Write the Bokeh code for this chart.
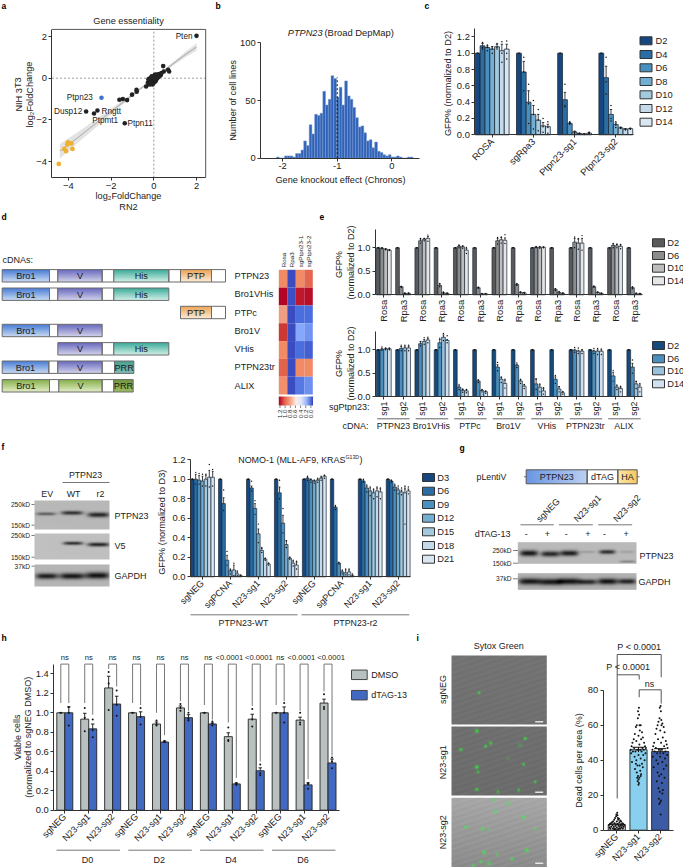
import math
import numpy as np
from bokeh.core.properties import value
from bokeh.embed import file_html
from bokeh.models import ColumnDataSource, FixedTicker, LinearAxis, LinearColorMapper, Range1d
from bokeh.plotting import figure
from bokeh.resources import INLINE

# ---------- DATA ----------
a_x = [-1.61,-1.45,-1.25,-1.02,-0.81,-0.80,-0.36,-0.23,0.44,0.47,0.67,0.72,-0.28,-0.25,-0.20,-0.18,-0.15,-0.14,-0.12,-0.10,-0.09,-0.08,-0.06,-0.05,-0.04,-0.03,-0.02,-0.01,0.0,0.01,0.02,0.03,0.04,0.05,0.06,0.07,0.08,0.09,0.10,0.11,0.12,0.13,0.15,0.16,0.18,0.20,0.22,0.24,0.26,0.28,0.30,0.33,0.36,-0.22,-0.16,-0.12,-0.05,0.02,0.1,0.17,-0.2,-0.07]
a_y = [-1.03,-1.00,-1.05,-0.79,-0.56,-0.65,-0.40,-0.27,0.58,0.32,0.40,0.32,-0.22,-0.05,-0.30,-0.18,-0.28,-0.10,-0.20,0.09,-0.22,-0.06,-0.30,-0.12,-0.02,-0.25,0.03,-0.15,-0.05,0.12,-0.20,0.08,-0.10,0.15,-0.02,0.10,-0.15,0.18,0.03,-0.08,0.14,0.05,0.16,0.0,0.12,0.04,0.18,0.10,0.20,0.12,0.18,0.15,0.25,-0.12,-0.20,0.02,0.06,0.05,0.0,0.08,-0.02,0.04]
a_gene_x = [2.0,-3.17,-2.64,-2.8,-1.36]
a_gene_y = [2.03,-1.6,-1.55,-1.69,-2.16]
a_blue_x = [-2.45]
a_blue_y = [-0.94]
a_orange_x = [-4.45,-4.19,-4.11,-4.05,-4.02,-3.86,-3.81]
a_orange_y = [-4.11,-3.39,-3.5,-3.18,-3.08,-3.13,-3.39]
a_fit_x = [-4.4,-3.5,-2.5,-1.5,-0.5,0.5,1.5,2.0]
a_fit_lo = [-3.85,-3.05,-2.18,-1.3,-0.46,0.32,1.02,1.32]
a_fit_mid = [-3.5,-2.8,-2.0,-1.2,-0.41,0.38,1.15,1.5]
a_fit_hi = [-3.15,-2.55,-1.82,-1.1,-0.36,0.44,1.28,1.68]

b_counts = [1,0,0,2,2,2,1,4,4,7,15,11,29,21,38,37,39,58,46,51,71.5,69,53,61.5,46,67,54,51,44,35,27,28,22,15,16,9,14,6,5,3,2,3,1,1,2,1,0,0,1,1]

c_groups = ["ROSA","sgRpa3","Ptpn23-sg1","Ptpn23-sg2"]
c_days = ["D2","D4","D6","D8","D10","D12","D14"]
c_vals = [[1.0,1.09,1.07,1.05,1.08,1.03,1.05],[1.0,.77,.40,.25,.18,.11,.10],[1.0,.43,.14,.035,.015,.01,.02],[1.0,.70,.25,.125,.085,.07,.075]]
c_errs = [[0,.03,.02,.03,.03,.08,.06],[0,.13,.14,.11,.07,.04,.03],[0,.09,.01,.01,.005,.005,.01],[0,.14,.06,.02,.01,.005,.005]]
c_dots = [[[1],[1.13,1.07,1.05],[1.1,1.07,1.03],[1.08,1.05,1.0],[1.12,1.07,1.05],[1.14,1.0,.89],[1.15,1.0,.93]],
          [[1],[.95,.54,.77],[.62,.38,.14],[.42,.25,.07],[.31,.18,.05],[.2,.1,.03],[.16,.09,.02]],
          [[1],[.62,.36,.34],[.16,.14,.13],[.04,.03,.02],[.02,.01,.01],[.01,.01,.005],[.03,.02,.01]],
          [[1],[.95,.5,.65],[.36,.2,.17],[.16,.12,.09],[.09,.08,.08],[.07,.07,.06],[.08,.07,.07]]]

d_names = ["PTPN23","Bro1VHis","PTPc","Bro1V","VHis","PTPN23tr","ALIX"]
heat_cols = ["Rosa","Rpa3","sgPtpn23-1","sgPtpn23-2"]
heat_vals = [[.95,0.0,.95,1.03],[1.2,.01,1.16,1.18],[.88,0.0,.1,.1],[1.1,0.0,.25,.2],[.95,0.0,.1,.06],[1.04,0.0,.95,.95],[.93,0.0,.13,.19]]
heat_ticks = ["1.2","1.0","0.8","0.6","0.4","0.2","0.0"]

e_days = ["D2","D6","D10","D14"]
e1_groups = ["Rosa","Rpa3"]*7
e1_vals = [[1,.99,.97,.95],[1,.17,.03,.03],[1,1.15,1.18,1.2],[1,.2,.04,.03],[1,1.03,1.02,.95],[1,.15,.02,.02],[1,1.15,1.17,1.16],[1,.22,.05,.04],[1,1.01,1.01,1.01],[1,.11,.05,.03],[1,1.12,1.1,1.1],[1,.17,.05,.03],[1,1.05,1.04,1.03],[1,.15,.02,.02]]
e1_errs = [[0,.01,.01,.01],[0,.01,.005,.005],[0,.04,.02,.04],[0,.03,.01,.005],[0,.02,.02,.04],[0,.01,.005,.005],[0,.05,.05,.05],[0,.01,.01,.01],[0,.01,.01,.01],[0,.02,.01,.01],[0,.08,.08,.1],[0,.01,.01,.005],[0,.03,.03,.03],[0,.01,.01,.01]]
e1_hi = [[1,1.0,.98,.96],[1,.18,.04,.04],[1,1.2,1.2,1.27],[1,.24,.06,.04],[1,1.06,1.04,1.01],[1,.16,.03,.03],[1,1.22,1.23,1.28],[1,.24,.06,.05],[1,1.03,1.03,1.02],[1,.13,.07,.04],[1,1.23,1.2,1.26],[1,.19,.06,.04],[1,1.09,1.08,1.07],[1,.17,.04,.03]]
e1_lo = [[1,.98,.96,.94],[1,.16,.02,.02],[1,1.1,1.15,1.14],[1,.17,.03,.02],[1,1.0,.99,.88],[1,.14,.01,.01],[1,1.08,1.1,1.09],[1,.2,.04,.03],[1,1.0,.99,1.0],[1,.09,.03,.02],[1,1.0,.97,.95],[1,.16,.04,.02],[1,1.0,1.0,.98],[1,.13,.01,.01]]
e2_sg = ["sg1","sg2"]*7
e2_cdna = ["PTPN23","Bro1VHis","PTPc","Bro1V","VHis","PTPN23tr","ALIX"]
e2_vals = [[1,1.01,1.02,1.02],[1,1.03,1.04,1.04],[1,1.13,1.18,1.21],[1,1.15,1.27,1.2],[1,.2,.13,.12],[1,.33,.13,.1],[1,.63,.37,.28],[1,.67,.33,.22],[1,.27,.2,.12],[1,.37,.16,.08],[1,.99,.97,.97],[1,.97,.97,.97],[1,.44,.2,.17],[1,.63,.27,.2]]
e2_errs = [[0,.02,.01,.01],[0,.04,.04,.04],[0,.05,.04,.03],[0,.07,.05,.02],[0,.03,.02,.02],[0,.02,.01,.01],[0,.05,.04,.07],[0,.02,.02,.03],[0,.1,.05,.05],[0,.05,.05,.02],[0,.02,.02,.03],[0,.02,.03,.03],[0,.08,.03,.03],[0,.08,.05,.05]]
e2_hi = [[1,1.06,1.04,1.04],[1,1.1,1.1,1.1],[1,1.17,1.26,1.27],[1,1.25,1.35,1.3],[1,.26,.16,.15],[1,.36,.15,.12],[1,.73,.42,.37],[1,.72,.37,.26],[1,.38,.27,.19],[1,.45,.21,.11],[1,1.05,1.04,1.0],[1,1.03,1.03,1.02],[1,.56,.25,.22],[1,.78,.33,.28]]
e2_lo = [[1,.99,1.0,1.0],[1,.98,.98,.98],[1,1.08,1.12,1.15],[1,1.05,1.2,1.15],[1,.15,.09,.08],[1,.3,.1,.07],[1,.55,.3,.18],[1,.62,.28,.17],[1,.15,.1,.05],[1,.28,.1,.05],[1,.95,.92,.92],[1,.92,.9,.9],[1,.33,.15,.1],[1,.5,.17,.1]]

f_groups = ["sgNEG","sgPCNA","N23-sg1","N23-sg2"]*2
f_days = ["D3","D6","D9","D12","D15","D18","D21"]
f_vals = [[1.0,1.0,.99,.98,1.0,1.02,1.02],[1.0,.75,.17,.06,.07,.03,.01],[1.0,.91,.70,.44,.27,.18,.13],[1.0,.86,.55,.33,.19,.14,.12],[1.0,1.01,.99,.98,.99,1.01,1.03],[1.0,.71,.14,.05,.04,.05,.01],[1.0,.98,.91,.88,.86,.88,.87],[1.0,.98,.92,.89,.87,.86,.88]]
f_errs = [[0,.05,.05,.05,.04,.07,.06],[0,.06,.05,.02,.05,.02,.005],[0,.02,.05,.05,.02,.01,.01],[0,.06,.08,.04,.01,.02,.03],[0,.01,.01,.01,.01,.01,.01],[0,.01,.005,.01,.03,.02,.01],[0,.01,.02,.03,.03,.03,.03],[0,.01,.02,.02,.02,.07,.02]]
f_hi = [[1.0,1.07,1.06,1.05,1.05,1.15,1.10],[1,.89,.26,.07,.14,.06,.02],[1,.98,.78,.54,.3,.19,.14],[1,.99,.70,.37,.2,.17,.16],[1,1.03,1.0,.99,1.01,1.03,1.04],[1,.73,.15,.07,.08,.08,.03],[1,1.0,.94,.92,.9,.92,.91],[1,.99,.95,.93,.91,.9,.92]]
f_lo = [[1.0,.95,.95,.93,.93,.92,.93],[1,.68,.12,.03,.01,.01,.005],[1,.88,.64,.35,.25,.17,.12],[1,.8,.45,.3,.18,.11,.08],[1,.99,.97,.96,.97,.99,1.01],[1,.69,.13,.03,.02,.02,.005],[1,.97,.87,.83,.8,.82,.8],[1,.97,.89,.85,.84,.54,.85]]

h_groups = ["sgNEG","N23-sg1","N23-sg2"]*4
h_dmso = [1,.935,1.255,1,.885,1.05,1,.755,.935,1,.925,1.10]
h_dtag = [1,.835,1.09,.96,.70,.95,.885,.27,.405,1,.26,.485]
h_dmso_err = [0,.06,.12,0,.02,.02,0,.04,.05,0,.03,.04]
h_dtag_err = [.06,.05,.08,.05,.01,.03,.01,.01,.03,.06,.02,.04]
h_dmso_dots = [[1],[1.05,.81,.95],[1.42,1.03,1.3],[1],[.92,.87,.88],[1.09,1.02,1.05],[1],[.85,.71,.72],[1.04,.86,.93],[1],[1.0,.88,.9],[1.19,1.06,1.04]]
h_dtag_dots = [[1.06,.87,1.0],[.93,.75,.82],[1.23,.97,1.08],[1.05,.88,.96],[.71,.70,.70],[1.0,.92,.94],[.91,.87,.89],[.28,.27,.26],[.47,.36,.38],[1.1,.9,1.0],[.28,.22,.27],[.54,.43,.5]]
h_sig = ["ns","ns","ns","ns","ns","ns","ns","<0.0001","<0.0001","ns","<0.0001","<0.0001"]
h_leg_l = [1.1,1.1,1.45,1.1,1.0,1.12,1.08,.9,1.07,1.08,1.02,1.22]
h_leg_r = [1.1,.98,1.27,1.08,.77,1.02,.93,.33,.5,1.12,.32,.56]
h_days = ["D0","D2","D4","D6"]

i_groups = ["sgNEG","N23-sg1","N23-sg2"]
i_means = [3.2,46,45]
i_errs = [.4,1.4,1.6]
i_neg = [10,9,8.5,8,7,7,6.5,6,6,5.5,5,5,5,4.5,4.5,4,4,4,3.5,3.5,3.5,3,3,3,3,2.5,2.5,2.5,2,2,2,2,1.5,1.5,1.5,1,1,1,1,.8,.8,.5,.5,.5]
i_sg1 = [70,68,66,64,60,60,60,59,57,56,55,54,53,52,52,51,50,50,49,48,48,47,47,47,46,46,46,46,45,45,45,44,44,43,43,42,41,40,40,39,38,38,37,37,36,35,34,33,32,31,31,30,30,29,28,27,26]
i_sg2 = [71,70,68,64,63,62,61,60,60,59,58,57,56,55,53,52,51,50,50,49,48,48,47,47,46,46,46,45,45,44,44,43,42,42,41,40,39,38,37,36,35,33,32,31,30,28,27,24,23,22,21,18,17,16,15,9]
i_jit = [.02,-.02,.03,-.03,.05,-.08,.1,-.12,.06,.16,-.17,.0,.2,-.22,.12,-.1,.26,-.28,.04,.3,-.32,.18,-.2,.34,-.36,.08,-.06,.24,-.26,.14,-.14,.32,-.34,.0,.22,-.18,.1,-.1,.28,-.3,.16,-.12,.05,-.05,.2,-.16,.08,-.08,.12,-.02,.1,-.06,.04,.0,-.04,.02,.0]

# ---------- FIGURE ----------
W, H = 683, 867
p = figure(width=W, height=H, x_range=Range1d(0, W), y_range=Range1d(0, H), output_backend="svg",
           toolbar_location=None, min_border=0, x_axis_location=None, y_axis_location=None,
           outline_line_color=None, background_fill_color="white", border_fill_color="white")
p.grid.visible = False
FONT = "Liberation Sans"
DARK = "#222222"


def Y(v):
    return H - v


def T(x, y, s, size=9.2, align="left", base="middle", angle=0, color=DARK, weight="normal", style="normal"):
    p.text(x=[x], y=[Y(y)], text=[s], angle=[math.radians(angle)], text_font=value(FONT),
           text_font_size=value(f"{size}px"), text_align=align, text_baseline=base, text_color=color,
           text_font_style="bold" if weight == "bold" else style)


def L(x0, y0, x1, y1, color="#555555", w=1.0, dash="solid"):
    p.segment(x0=[x0], y0=[Y(y0)], x1=[x1], y1=[Y(y1)], line_color=color, line_width=w, line_dash=dash)


def R(x0, y0, x1, y1, fill=None, line="#666666", w=1.0):
    p.quad(left=[x0], right=[x1], top=[Y(y0)], bottom=[Y(y1)], fill_color=fill, fill_alpha=1 if fill else 0,
           line_color=line, line_width=w, line_alpha=1 if line else 0)


def rgb(hexs):
    return np.array([int(hexs[i:i + 2], 16) for i in (1, 3, 5)], dtype=float)


def show_img(x0, y0, x1, y1, arr):
    a = np.clip(arr, 0, 255).astype(np.uint32)
    im = a[..., 0] | (a[..., 1] << 8) | (a[..., 2] << 16) | (255 << 24)
    p.image_rgba(image=[im[::-1].astype(np.uint32)], x=[x0], y=[Y(y1)], dw=[x1 - x0], dh=[y1 - y0])


def vgrad(x0, y0, x1, y1, top, bottom):
    w, h = max(int(round(x1 - x0)), 1), max(int(round(y1 - y0)), 1)
    t = np.linspace(0, 1, h)[:, None, None]
    show_img(x0, y0, x1, y1, (rgb(top)[None, None, :] * (1 - t) + rgb(bottom)[None, None, :] * t) * np.ones((h, w, 1)))


def hgrad(x0, y0, x1, y1, stops):
    w, h = max(int(round(x1 - x0)), 1), max(int(round(y1 - y0)), 1)
    pos = np.linspace(0, 1, len(stops))
    cols = np.array([rgb(c) for c in stops])
    u = np.linspace(0, 1, w)
    line = np.stack([np.interp(u, pos, cols[:, k]) for k in range(3)], axis=1)
    show_img(x0, y0, x1, y1, line[None, :, :] * np.ones((h, 1, 1)))


def blot(x0, y0, x1, y1, grey, bands, hi=1.0):
    w, h = int(round(x1 - x0)), int(round(y1 - y0))
    xx, yy = np.meshgrid(np.linspace(x0, x1, w), np.linspace(y0, y1, h))
    g = np.full((h, w), float(grey))
    for cx, cy, wx, wy, d in bands:
        g -= d * np.exp(-((xx - cx) / wx) ** 4 - ((yy - cy) / wy) ** 2)
    show_img(x0, y0, x1, y1, np.stack([g, g, g], axis=2))


def panel(name, px, dx, py, dy):
    sx = (dx[1] - dx[0]) / (px[1] - px[0])
    sy = (dy[1] - dy[0]) / (py[1] - py[0])
    p.extra_x_ranges[name + "x"] = Range1d(dx[0] - px[0] * sx, dx[0] + (W - px[0]) * sx)
    p.extra_y_ranges[name + "y"] = Range1d(dy[0] + (H - py[0]) * sy, dy[0] - py[0] * sy)
    return dict(x_range_name=name + "x", y_range_name=name + "y")


def style_axis(a, size, lc="#333333"):
    a.axis_line_color = lc
    a.major_tick_line_color = lc
    a.axis_line_width = 1
    a.major_tick_line_width = 1
    a.major_tick_in = 0
    a.major_tick_out = 3
    a.minor_tick_line_color = None
    a.major_label_text_font = FONT
    a.major_label_text_font_size = f"{size}px"
    a.major_label_text_color = DARK
    a.major_label_standoff = 2


def axis_y(kw, xloc, ticks, labels, bounds, size=9.4):
    a = LinearAxis(x_range_name=kw["x_range_name"], y_range_name=kw["y_range_name"], fixed_location=xloc,
                   bounds=bounds, ticker=FixedTicker(ticks=ticks), major_label_overrides=dict(zip(ticks, labels)))
    style_axis(a, size)
    p.add_layout(a, "left")
    return a


def axis_x(kw, yloc, ticks, labels, bounds, size=9.4, angle=0.0):
    a = LinearAxis(x_range_name=kw["x_range_name"], y_range_name=kw["y_range_name"], fixed_location=yloc,
                   bounds=bounds, ticker=FixedTicker(ticks=ticks), major_label_overrides=dict(zip(ticks, labels)))
    style_axis(a, size)
    if angle:
        a.major_label_orientation = math.radians(angle)
    p.add_layout(a, "below")
    return a


def grouped(kw, vals, errs, colors, bw, dots, lw=0.8, dsize=1.6):
    n = len(vals[0])
    for j in range(n):
        xs = [i + (j - (n - 1) / 2) * bw for i in range(len(vals))]
        tops = [g[j] for g in vals]
        p.vbar(x=xs, top=tops, bottom=0, width=bw, fill_color=colors[j], line_color="#1c2a3a", line_width=lw, **kw)
        es = [g[j] for g in errs]
        p.segment(x0=xs, x1=xs, y0=tops, y1=[t + e for t, e in zip(tops, es)], line_color="#111111", line_width=0.8, **kw)
        p.segment(x0=[x - bw * .25 for x in xs], x1=[x + bw * .25 for x in xs], y0=[t + e for t, e in zip(tops, es)],
                  y1=[t + e for t, e in zip(tops, es)], line_color="#111111", line_width=0.8, **kw)
    dx, dy = [], []
    for i, g in enumerate(dots):
        for j, pts in enumerate(g):
            for v in pts:
                dx.append(i + (j - (n - 1) / 2) * bw)
                dy.append(v)
    p.scatter(x=dx, y=dy, size=dsize, fill_color="#111111", line_color=None, **kw)


def legend(x, ys, names, colors, w=12, h=8, tx=3.5, line="#333333", size=9.3):
    for yy, n, c in zip(ys, names, colors):
        R(x, yy - h / 2, x + w, yy + h / 2, fill=c, line=line, w=1)
        T(x + w + tx, yy, n, size=size)


BLUES7 = ["#17477f", "#2a6ea5", "#4a8fbd", "#74aed0", "#a3c9de", "#c4daea", "#dae6f2"]

# panel letters
for s, x, y in [("a", 1, 5), ("b", 215, 5), ("c", 424, 5), ("d", 1, 216), ("e", 319, 216), ("f", 1, 446),
                ("g", 459, 447), ("h", 1, 637), ("i", 416, 637)]:
    T(x, y, s, size=8.5, weight="bold", color="#000000")

# ---------- a ----------
ka = panel("a", (153.3, 196), (0, 2), (77.7, 36), (0, 2))
axmin, axmax, aymin, aymax = -4.77, 2.43, -4.77, 2.34
p.varea(x=a_fit_x, y1=a_fit_lo, y2=a_fit_hi, fill_color="#dcdcdc", fill_alpha=.8, **ka)
p.line(x=a_fit_x, y=a_fit_mid, line_color="#b5b5b5", line_width=1.1, **ka)
p.line(x=[0, 0], y=[aymin, aymax], line_color="#8c8c8c", line_dash="2 2", line_width=0.9, **ka)
p.line(x=[axmin, axmax], y=[0, 0], line_color="#8c8c8c", line_dash="2 2", line_width=0.9, **ka)
p.line(x=[axmin, axmax, axmax], y=[aymax, aymax, aymin], line_color="#555555", line_width=1, **ka)
p.scatter(x=a_x, y=a_y, size=4.6, fill_color="#222222", line_color=None, **ka)
p.scatter(x=a_gene_x, y=a_gene_y, size=4.6, fill_color="#222222", line_color=None, **ka)
p.scatter(x=a_blue_x, y=a_blue_y, size=4.6, fill_color="#3f73cf", line_color=None, **ka)
p.scatter(x=a_orange_x, y=a_orange_y, size=4.8, fill_color="#edb12f", line_color=None, **ka)
axis_y(ka, axmin, [-4, -2, 0, 2], ["\u22124", "\u22122", "0", "2"], (aymin, aymax))
axis_x(ka, aymin, [-4, -2, 0, 2], ["\u22124", "\u22122", "0", "2"], (axmin, axmax))
T(128, 20, "Gene essentiality", align="center")
T(18, 94, "NIH 3T3", align="center", angle=90)
T(29, 94, "log\u2082FoldChange", align="center", angle=90)
T(128, 195, "log\u2082FoldChange", align="center")
T(128, 206, "RN2", align="center")
T(192, 35.7, "Pten", size=8.2, align="right")
T(92.3, 97, "Ptpn23", size=8.2, align="right")
T(81.7, 110.7, "Dusp12", size=8.2, align="right")
T(101, 110.7, "Rngtt", size=8.2)
T(91.7, 120, "Ptpmt1", size=8.2)
T(127, 123, "Ptpn11", size=8.2)

# ---------- b ----------
kb = panel("b", (336.7, 391.3), (-1, 0), (157.7, 42.3), (0, 100))
b_left = [-2.113 + 0.05 * k for k in range(len(b_counts))]
p.quad(left=b_left, right=[v + 0.05 for v in b_left], top=b_counts, bottom=[0] * len(b_counts),
       fill_color="#2f62b8", line_color="#7f9fd0", line_width=0.5, **kb)
p.line(x=[-1, -1], y=[0, 70], line_color="#111111", line_dash="2 2", line_width=1, **kb)
axis_y(kb, -2.4, [0, 50, 100], ["0", "50", "100"], (0, 100))
axis_x(kb, 0, [-2, -1, 0], ["-2", "-1", "0"], (-2.4, 0.5))
T(287.3, 32, "PTPN23", style="italic", size=9.2)
T(324, 32, "(Broad DepMap)", size=9.4)
T(340, 179, "Gene knockout effect (Chronos)", align="center")
T(232.5, 100, "Number of cell lines", align="center", angle=90)

# ---------- c ----------
kc = panel("c", (491.7, 532.9), (0, 1), (134.3, 52.7), (0, 1))
grouped(kc, c_vals, c_errs, BLUES7, 4.83 / 41.2, c_dots, dsize=1.5)
axis_y(kc, -0.42, [0, .2, .4, .6, .8, 1.0, 1.2], ["0.0", "0.2", "0.4", "0.6", "0.8", "1.0", "1.2"], (0, 1.3))
axis_x(kc, 0, [0, 1, 2, 3], c_groups, (-0.42, 3.44), angle=45)
T(447, 83, "GFP% (normalized to D2)", align="center", angle=90)
legend(639.5, [40.3, 54, 67.3, 81, 94.3, 108, 121.7], c_days, BLUES7)

# ---------- d ----------
T(2, 259, "cDNAs:", size=9)
d_style = {"B": ("#4d80d8", "#c5d7f2"), "V": ("#6c6cc0", "#cfcfea"), "H": ("#3fae9c", "#cfeee6"), "P": ("#f0a65a", "#fcead2"),
           "R": ("#4aa090", "#7dbdb0"), "G": ("#8ab24e", "#e0ecc2"), "W": None, "Q": ("#6f9a3c", "#9cbc62")}
d_labels = {"B": "Bro1", "V": "V", "H": "His", "P": "PTP", "R": "PRR", "G": "Bro1", "W": "", "Q": "PRR"}
d_rows = [
    [("B", 5, 147), ("W", 147, 172), ("V", 172, 305), ("W", 305, 340), ("H", 340, 505), ("W", 505, 540), ("P", 540, 633), ("W", 633, 675)],
    [("B", 5, 147), ("W", 147, 172), ("V", 172, 305), ("W", 305, 340), ("H", 340, 505)],
    [("P", 540, 633), ("W", 633, 675)],
    [("B", 5, 147), ("W", 147, 172), ("V", 172, 305)],
    [("V", 172, 305), ("W", 305, 340), ("H", 340, 505)],
    [("B", 5, 145), ("W", 145, 172), ("V", 172, 305), ("W", 305, 342), ("R", 342, 400)],
    [("G", 5, 147), ("W", 147, 175), ("G2", 175, 305), ("W", 305, 340), ("Q", 340, 398)],
]
d_centres = [275.3, 293.7, 312, 330, 348.3, 366.7, 385.3]
for row, cy, name in zip(d_rows, d_centres, d_names):
    y0, y1 = cy - 6.2, cy + 6.2
    for kind, zx0, zx1 in row:
        x0, x1 = zx0 / 3, zx1 / 3
        key = "G" if kind == "G2" else kind
        if kind != "W":
            vgrad(x0, y0, x1, y1, *d_style[key])
        lab = "V" if kind == "G2" else d_labels[kind]
        if lab:
            T((x0 + x1) / 2, cy + 0.3, lab, size=9.2, align="center", color="#1a1a1a")
        R(x0, y0, x1, y1, line="#6b6b6b", w=1)
    T(234, cy, name)

# heatmap
anchors = [(0.0, "#3b4cc0"), (.1, "#4a6ede"), (.25, "#86a8fc"), (.6, "#ececf0"), (.95, "#f08b66"), (1.05, "#e05f49"), (1.1, "#cc3a32"), (1.2, "#b40426")]
an_v = [a[0] for a in anchors]
an = np.array([rgb(a[1]) for a in anchors])
u = np.linspace(0, 1.2, 256)
palette = ["#%02x%02x%02x" % tuple(int(round(np.interp(t, an_v, an[:, k]))) for k in range(3)) for t in u]
mapper = LinearColorMapper(palette=palette, low=0, high=1.2)
kh = panel("heat", (278.3, 312.3), (0, 4), (269.3, 394), (0, 7))
hx, hy, hv = [], [], []
for r, row in enumerate(heat_vals):
    for c, v in enumerate(row):
        hx.append(c + .5)
        hy.append(r + .5)
        hv.append(v)
p.rect(x="x", y="y", width=1, height=1, source=ColumnDataSource(dict(x=hx, y=hy, v=hv)),
       fill_color={"field": "v", "transform": mapper}, line_color=None, **kh)
for c, lab in enumerate(heat_cols):
    T(278.3 + 8.5 * (c + .5), 266.7, lab, size=6.2, align="left", angle=90)
hgrad(278.3, 396, 312.5, 405, ["#b40426", "#e8674f", "#f4a582", "#fbeee8", "#dfe6f6", "#8fb0fb", "#3b4cc0"])
for k, lab in enumerate(heat_ticks):
    xt = 279.5 + k * 5.15
    L(xt, 405, xt, 407.5, color="#333333", w=0.6)
    T(xt, 409, lab, size=6.2, align="right", angle=90)

# ---------- e ----------
GREYS4 = ["#5a5a5a", "#8c8c8c", "#bdbdbd", "#e6e6e6"]
BLUES4 = ["#144a7c", "#4a8fbd", "#99c2dc", "#d0e0ef"]
ke1 = panel("e1", (383.3, 402.57), (0, 1), (294.3, 247.3), (0, 1))
dots1 = [[[a, b] for a, b in zip(h, l)] for h, l in zip(e1_hi, e1_lo)]
grouped(ke1, e1_vals, e1_errs, GREYS4, 3.7 / 19.27, dots1, lw=0.7, dsize=1.4)
axis_y(ke1, -0.43, [0, .5, 1.0], ["0.0", "0.5", "1.0"], (0, 1.4))
axis_x(ke1, 0, list(range(14)), e1_groups, (-0.43, 13.4), angle=90)
T(338.3, 264, "GFP%", align="center", angle=90)
T(350.7, 262, "(normalized to D2)", align="center", angle=90, size=9)
legend(652, [242.3, 255, 267.7, 280.3], e_days, GREYS4, tx=2.7, line="#333333")

ke2 = panel("e2", (383.3, 402.57), (0, 1), (396, 349.3), (0, 1))
dots2 = [[[a, b] for a, b in zip(h, l)] for h, l in zip(e2_hi, e2_lo)]
grouped(ke2, e2_vals, e2_errs, BLUES4, 3.7 / 19.27, dots2, lw=0.7, dsize=1.4)
axis_y(ke2, -0.43, [0, .5, 1.0], ["0.0", "0.5", "1.0"], (0, 1.4))
axis_x(ke2, 0, list(range(14)), e2_sg, (-0.43, 13.4), angle=90, size=8.8)
T(338.3, 363, "GFP%", align="center", angle=90)
T(350.7, 363, "(normalized to D2)", align="center", angle=90, size=9)
legend(652, [345, 358.3, 370.3, 383.3], e_days, BLUES4, tx=2.7)
T(369, 406.7, "sgPtpn23:", size=9, align="right")
T(368, 425.7, "cDNA:", size=9, align="right")
for k, lab in enumerate(e2_cdna):
    x0 = 376.7 + 38.5 * k
    L(x0, 418.3, x0 + 32.5, 418.3, color="#666666", w=1)
    T(x0 + 16.2 - (0.5 if k else 0), 425.7, lab, size=8.8, align="center")

# ---------- f ----------
fb = lambda zx: zx / 3
fy = lambda zy: 400 + zy / 3
blot(34, 500, 109, 529, 185, [(fb(136), fy(340), 10, 1.6, 95), (fb(215), fy(337), 11, 2.0, 140), (fb(295), fy(343), 11, 2.5, 150)])
blot(34, 533, 109, 559, 192, [(fb(218), fy(428), 10, 1.7, 150), (fb(295), fy(432), 11, 2.0, 160)])
blot(34, 564, 109, 586, 182, [(fb(138), fy(527), 11, 3.0, 155), (fb(215), fy(527), 13, 3.2, 160), (fb(292), fy(525), 12, 3.4, 165)])
T(85, 474, "PTPN23", align="center", size=8.8)
L(62, 482, 109, 482, color="#777777", w=1)
T(46.7, 493, "EV", align="center", size=8.8)
T(73, 493, "WT", align="center", size=8.8)
T(100, 493, "r2", align="center", size=8.8)
for yy, lab in [(504, "250kD"), (524.7, "150kD"), (535, "250kD"), (556.7, "150kD"), (565.7, "37kD")]:
    T(29.5, yy, lab, size=6.6, align="right")
    L(31, yy, 34, yy, color="#444444", w=0.7)
T(114, 515, "PTPN23", size=9)
T(114, 545.7, "V5", size=9)
T(114, 575.7, "GAPDH", size=9)

kf = panel("f", (202, 229.95), (0, 1), (576.3, 478.7), (0, 1))
dotsf = [[[a, b] for a, b in zip(h, l)] for h, l in zip(f_hi, f_lo)]
grouped(kf, f_vals, f_errs, BLUES7, 3.4 / 27.95, dotsf, lw=0.7, dsize=1.4)
axis_y(kf, -0.43, [0, .2, .4, .6, .8, 1.0, 1.2], ["0.0", "0.2", "0.4", "0.6", "0.8", "1.0", "1.2"], (0, 1.2))
axis_x(kf, 0, list(range(8)), f_groups, (-0.43, 7.43), angle=45, size=9.2)
T(161.7, 521.7, "GFP% (normalized to D3)", align="center", angle=90, size=9.2)
T(237.7, 459, "NOMO-1 (MLL-AF9, KRAS", size=8.95)
T(345, 456.8, "G13D", size=5.2)
T(359, 459, ")", size=8.95)
legend(422, [477, 490.7, 504, 517.7, 531.3, 545, 558.7], f_days, BLUES7, tx=2.7)
L(190, 614.3, 297, 614.3, color="#777777")
L(301, 614.3, 408.7, 614.3, color="#777777")
T(243, 622, "PTPN23-WT", align="center", size=8.8)
T(355, 622, "PTPN23-r2", align="center", size=8.8)

# ---------- g ----------
gx = lambda zx: 430 + zx / 3
T(476, 476, "pLentiV", size=8.8)
L(523.5, 476.3, 639, 476.3, color="#444444", w=0.8)
hgrad(gx(287), 469.3, gx(470), 483.3, ["#6a97e4", "#bcd0f2"])
R(gx(470), 469.3, gx(562), 483.3, fill="white", line=None)
hgrad(gx(562), 469.3, gx(620), 483.3, ["#fbe8a8", "#f7c860"])
R(gx(287), 469.3, gx(470), 483.3, line="#555555")
R(gx(470), 469.3, gx(562), 483.3, line="#555555")
R(gx(562), 469.3, gx(620), 483.3, line="#555555")
T((gx(287) + gx(470)) / 2, 476.3, "PTPN23", align="center", size=9)
T((gx(470) + gx(562)) / 2, 476.3, "dTAG", align="center", size=9)
T((gx(562) + gx(620)) / 2, 476.3, "HA", align="center", size=9)
for zx0, zx1 in [(270, 370), (385, 487), (503, 605)]:
    L(gx(zx0), 524.3, gx(zx1), 524.3, color="#777777")
T(gx(322), 520, "sgNEG", size=9, angle=45)
T(gx(435), 520, "N23-sg1", size=9, angle=45)
T(gx(553), 520, "N23-sg2", size=9, angle=45)
T(510, 533.7, "dTAG-13", size=9, align="right")
for zx, sgn in [(287, "-"), (351, "+"), (407, "-"), (472, "+"), (522, "-"), (587, "+")]:
    T(gx(zx), 533.5, sgn, size=9, align="center")
blot(gx(262), 541.7, gx(618), 563.3, 186, [(gx(294), 553.3, 9, 2.9, 165), (gx(358), 554, 9.5, 2.7, 150), (gx(415), 553.3, 9, 2.7, 160),
                                             (gx(470), 552, 8, 1.2, 30), (gx(529), 552, 8, 2.0, 145), (gx(588), 552, 7.5, 1.2, 28), (gx(590), 561.5, 8, 1, 60)])
blot(gx(262), 572.7, gx(618), 589.3, 178, [(gx(296), 581.5, 11, 3.2, 155), (gx(358), 582, 11, 3.2, 155), (gx(415), 581.5, 11, 3.2, 160),
                                             (gx(470), 582, 9, 2.6, 140), (gx(530), 581.5, 10, 3.0, 160), (gx(588), 581.5, 9, 2.6, 145)])
for yy, lab in [(550, "250kD"), (562.7, "150kD"), (578.3, "37kD")]:
    T(511, yy, lab, size=6.6, align="right")
    L(512.5, yy, gx(262), yy, color="#444444", w=0.7)
T(639, 555.3, "PTPN23", size=9)
T(638, 581.7, "GAPDH", size=9)

# ---------- h ----------
kh2 = panel("h", (64.3, 88.23), (0, 1), (809.7, 712.3), (0, 1))
bw = 8.0 / 23.93
xs_d = [i - bw / 2 for i in range(12)]
xs_t = [i + bw / 2 for i in range(12)]
p.vbar(x=xs_d, top=h_dmso, bottom=0, width=bw, fill_color="#b9c0c0", line_color="#222222", line_width=0.9, **kh2)
p.vbar(x=xs_t, top=h_dtag, bottom=0, width=bw, fill_color="#4169c1", line_color="#222222", line_width=0.9, **kh2)
for xs, vs, es, ds in [(xs_d, h_dmso, h_dmso_err, h_dmso_dots), (xs_t, h_dtag, h_dtag_err, h_dtag_dots)]:
    ups = [v + e for v, e in zip(vs, es)]
    p.segment(x0=xs, x1=xs, y0=vs, y1=ups, line_color="#111111", line_width=0.9, **kh2)
    p.segment(x0=[x - bw * .22 for x in xs], x1=[x + bw * .22 for x in xs], y0=ups, y1=ups, line_color="#111111", line_width=0.9, **kh2)
    dx = [x for x, d in zip(xs, ds) for _ in d]
    dy = [v for d in ds for v in d]
    p.scatter(x=dx, y=dy, size=2, fill_color="#111111", line_color=None, **kh2)
sig_shift = [0, 0, 0, 0, 0, 0, 0, -3, 2.6, 0, -2.8, 3]
for i, s in enumerate(h_sig):
    p.line(x=[xs_d[i], xs_d[i], xs_t[i], xs_t[i]], y=[h_leg_l[i], 1.5, 1.5, h_leg_r[i]], line_color="#777777", line_width=1, **kh2)
    T(64.3 + 23.93 * i + sig_shift[i], 657.3, s, size=7.6, align="center")
axis_y(kh2, -0.46, [0, .2, .4, .6, .8, 1.0, 1.2, 1.4], ["0.0", "0.2", "0.4", "0.6", "0.8", "1.0", "1.2", "1.4"], (0, 1.5), size=9.4)
axis_x(kh2, 0, list(range(12)), h_groups, (-0.46, 11.46), angle=45, size=9.2)
T(17, 736.7, "Viable cells", align="center", angle=90, size=9)
T(28, 736.7, "(normalized to sgNEG DMSO)", align="center", angle=90, size=9)
legend(351, [674.3, 694.7], ["DMSO", "dTAG-13"], ["#b9c0c0", "#4169c1"], w=15.7, h=9.5, tx=4, line="#444444", size=9)
for k, lab in enumerate(h_days):
    x0 = 56 + 71.8 * k
    L(x0, 849.7, x0 + 63.5, 849.7, color="#777777")
    T(x0 + 31, 859, lab, align="center", size=9)

# ---------- i ----------
ix = lambda zx: 460 + zx / 3
iy = lambda zy: 600 + zy / 3


def micro(y0, y1, g0, g1, spots):
    x0, x1 = 451, 546.3
    w, h = int(round(x1 - x0)), int(round(y1 - y0))
    xx, yy = np.meshgrid(np.linspace(x0, x1, w), np.linspace(y0, y1, h))
    base = g0 + (g1 - g0) * (yy - y0) / (y1 - y0)
    base = base + 4 * np.sin(xx * 1.9 + yy * 0.7) * np.sin(yy * 2.3 - xx * 0.4) + 3 * np.sin(xx * 0.37 + yy * 1.1)
    r = base.copy()
    g = base.copy()
    b = base.copy()
    for zx, zy, s, a in spots:
        m = a * np.exp(-(((xx - ix(zx)) ** 2 + (yy - iy(zy)) ** 2) / s ** 2))
        r -= m * base * 0.6
        g += m * (235 - base)
        b -= m * base * 0.5
    show_img(x0, y0, x1, y1, np.stack([r, g, b], axis=2))


micro(655, 724, 116, 112, [(55, 277, 1.3, 1.0)])
micro(726, 795, 112, 108, [(48, 390, 1.7, 1), (195, 413, 1.5, 1), (90, 427, 1.5, .9), (75, 436, 1.5, .9), (178, 433, 2.2, .3), (48, 500, 1.8, 1),
                           (52, 515, 1.3, .8), (190, 492, 1.3, 1), (225, 545, 1.3, .9), (48, 568, 1.6, .9), (112, 575, 1.5, .7), (175, 570, 1.3, .9), (0, 447, 1.6, .9), (143, 475, 1.2, .4)])
micro(797.3, 866.7, 168, 140, [(100, 597, 1.6, .6), (143, 608, 2.2, .5), (105, 632, 2, .6), (190, 650, 1.8, .8), (15, 680, 1.6, .9), (65, 685, 1.8, .8),
                               (85, 688, 1.5, .5), (225, 685, 1.4, .7), (200, 750, 1.8, 1), (70, 757, 1.8, .9), (110, 762, 1.6, .6), (155, 777, 1.5, .9), (60, 785, 1.6, .8), (85, 790, 2.2, .6), (38, 797, 1.6, .8)])
for yy in [721.3, 791.7, 862.7]:
    L(534.7, yy, 542.7, yy, color="white", w=1.2)
T(498.3, 645.7, "Sytox Green", align="center", size=9)
T(442, 689, "sgNEG", align="center", angle=90, size=9)
T(442, 761.7, "N23-sg1", align="center", angle=90, size=9)
T(442, 831.7, "N23-sg2", align="center", angle=90, size=9)

ki = panel("i", (616.3, 638), (0, 1), (829.7, 689.7), (0, 80))
p.vbar(x=[0, 1, 2], top=i_means, bottom=0, width=0.79, fill_color=["#e8e8e8", "#88d0ee", "#3b5ba5"], line_color="#222222", line_width=0.9, **ki)
for k, pts in enumerate([i_neg, i_sg1, i_sg2]):
    p.scatter(x=[k + j for j, _ in zip(i_jit, pts)], y=pts, size=2, fill_color="#111111", line_color=None, **ki)
p.segment(x0=[0, 1, 2], x1=[0, 1, 2], y0=[m - e for m, e in zip(i_means, i_errs)], y1=[m + e for m, e in zip(i_means, i_errs)],
          line_color="#111111", line_width=1, **ki)
p.segment(x0=[-.28, .72, 1.72], x1=[.28, 1.28, 2.28], y0=[m + e for m, e in zip(i_means, i_errs)], y1=[m + e for m, e in zip(i_means, i_errs)],
          line_color="#111111", line_width=1, **ki)
axis_y(ki, -0.63, [0, 20, 40, 60, 80], ["0", "20", "40", "60", "80"], (0, 80), size=9.4)
axis_x(ki, 0, [0, 1, 2], i_groups, (-0.63, 2.6), angle=45, size=9.2)
T(578.3, 760, "Dead cells per area (%)", align="center", angle=90, size=9)
L(616.7, 654, 660.7, 654, color="#555555")
L(660.7, 654, 660.7, 676.7, color="#555555")
L(616.7, 654, 616.7, 798, color="#555555")
L(616.7, 674.3, 638.7, 674.3, color="#555555")
L(638.7, 674.3, 638.7, 679, color="#555555")
L(638.7, 689.3, 660.7, 689.3, color="#555555")
L(638.7, 689.3, 638.7, 696.7, color="#555555")
L(660.7, 689.3, 660.7, 703, color="#555555")
T(638.7, 646, "P < 0.0001", align="center", size=9)
T(627.7, 666.7, "P < 0.0001", align="center", size=9)
T(649, 683.3, "ns", align="center", size=9)

open("out.html", "w").write(file_html(p, INLINE))
